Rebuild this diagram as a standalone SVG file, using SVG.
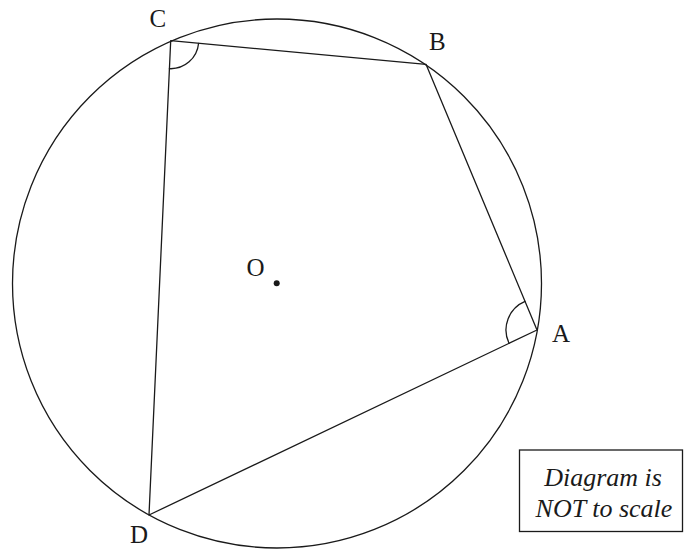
<svg xmlns="http://www.w3.org/2000/svg" width="684" height="551" viewBox="0 0 684 551">
<style>
.ln{fill:none;stroke:#1a1a1a;stroke-width:1.3;stroke-linecap:round;stroke-linejoin:round}
.lbl{font-family:"Liberation Serif","Times New Roman",serif;font-size:25px;fill:#1a1a1a}
.note{font-family:"Liberation Serif","Times New Roman",serif;font-size:26px;font-style:italic;fill:#1a1a1a;text-anchor:middle}
</style>
<rect width="684" height="551" fill="#fff"/>
<g id="circle">
<circle class="ln" cx="277" cy="283.5" r="264.5"/>
</g>
<g id="connectors">
<polygon class="ln" points="170.7,40.7 426,64.3 537,330 149,515"/>
<path class="ln" d="M198.6,43.3 A28,28 0 0 1 169.4,68.7"/>
<path class="ln" d="M525.05,301.4 A31,31 0 0 0 509,343.3"/>
</g>
<g id="O">
<circle cx="276.7" cy="283.3" r="3" fill="#1a1a1a"/>
<text class="lbl" x="246.5" y="276">O</text>
</g>
<g id="C"><text class="lbl" x="149.5" y="27">C</text></g>
<g id="B"><text class="lbl" x="429" y="49.5">B</text></g>
<g id="A"><text class="lbl" x="552" y="341.5">A</text></g>
<g id="D"><text class="lbl" x="130" y="543">D</text></g>
<g id="note">
<rect x="519.5" y="450" width="163" height="81.5" fill="none" stroke="#1a1a1a" stroke-width="1.3"/>
<text class="note" x="603" y="486">Diagram is</text>
<text class="note" x="604" y="517">NOT to scale</text>
</g>
</svg>
